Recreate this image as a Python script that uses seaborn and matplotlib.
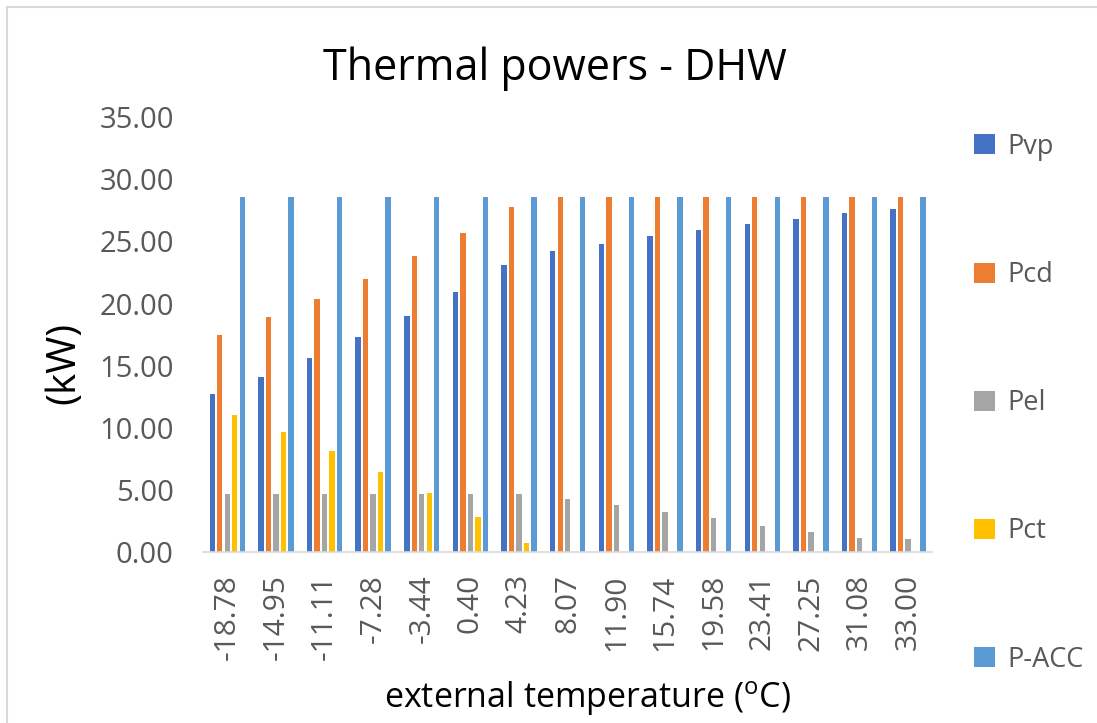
import matplotlib
matplotlib.use("Agg")
import matplotlib.pyplot as plt
import seaborn as sns
import pandas as pd
from matplotlib.patches import Patch, Rectangle

# External temperature bins (°C)
temperatures = ["-18.78", "-14.95", "-11.11", "-7.28", "-3.44", "0.40", "4.23",
                "8.07", "11.90", "15.74", "19.58", "23.41", "27.25", "31.08", "33.00"]

# Thermal powers (kW)
p_vp = [12.7, 14.05, 15.6, 17.3, 19.0, 20.9, 23.1, 24.2, 24.8, 25.4, 25.9, 26.4, 26.8, 27.3, 27.6]
p_cd = [17.5, 18.9, 20.4, 22.0, 23.8, 25.7, 27.8, 28.6, 28.6, 28.6, 28.6, 28.6, 28.6, 28.6, 28.6]
p_el = [4.64, 4.64, 4.64, 4.64, 4.64, 4.64, 4.64, 4.24, 3.78, 3.19, 2.71, 2.09, 1.64, 1.15, 1.02]
p_ct = [11.0, 9.68, 8.12, 6.43, 4.78, 2.8, 0.75, 0, 0, 0, 0, 0, 0, 0, 0]
p_acc = [28.6] * 15

series_names = ["Pvp", "Pcd", "Pel", "Pct", "P-ACC"]
series_colors = ["#4472C4", "#ED7D31", "#A5A5A5", "#FFC000", "#5B9BD5"]

frames = []
for name, vals in zip(series_names, [p_vp, p_cd, p_el, p_ct, p_acc]):
    frames.append(pd.DataFrame({"temp": temperatures, "series": name, "power": vals}))
df = pd.concat(frames, ignore_index=True)

sns.set_theme(style="white")
plt.rcParams["font.family"] = ["Open Sans", "DejaVu Sans"]
plt.rcParams["mathtext.fontset"] = "custom"
plt.rcParams["mathtext.rm"] = "Open Sans"

fig = plt.figure(figsize=(10.97, 7.23), dpi=100)
ax = fig.add_axes([0.185, 0.2365, 0.665, 0.6015])

sns.barplot(data=df, x="temp", y="power", hue="series", order=temperatures,
            hue_order=series_names, palette=series_colors, width=0.77,
            saturation=1, legend=False, ax=ax)

# Thin bars with a small gap between them
for bar in ax.patches:
    w = bar.get_width()
    new_w = w * 0.72
    bar.set_x(bar.get_x() + (w - new_w) / 2)
    bar.set_width(new_w)
    bar.set_linewidth(0)

ax.set_ylim(0, 35)
ax.set_xlim(-0.5, len(temperatures) - 0.5)
ax.set_yticks([0, 5, 10, 15, 20, 25, 30, 35])
ax.set_yticklabels([f"{v:.2f}" for v in [0, 5, 10, 15, 20, 25, 30, 35]])
ax.tick_params(axis="y", labelsize=21, colors="#595959", length=0, pad=21)
ax.tick_params(axis="x", labelsize=21.5, colors="#595959", length=0, pad=16, labelrotation=90)

for side in ["top", "right", "left"]:
    ax.spines[side].set_visible(False)
ax.spines["bottom"].set_color("#D9D9D9")
ax.spines["bottom"].set_linewidth(1.2)

ax.set_xlabel(r"external temperature ($\mathrm{^{o}}$C)", fontsize=24.5, color="black")
ax.xaxis.label.set_va("baseline")
ax.xaxis.set_label_coords((588 - 203) / 729.5, (552 - 708) / 434.9)

ax.set_ylabel("(kW)", fontsize=29, color="black")
ax.yaxis.label.set_va("center")
ax.yaxis.label.set_ha("center")
ax.yaxis.set_label_coords((64 - 203) / 729.5, (552 - 363) / 434.9)

fig.text(0.506, 1 - 80 / 723, "Thermal powers - DHW", fontsize=31, ha="center",
         va="baseline", color="black")

handles = [Patch(facecolor=c, edgecolor="none", label=n) for n, c in zip(series_names, series_colors)]
fig.legend(handles=handles, loc="upper left", bbox_to_anchor=(0.866, 0.85),
           frameon=False, fontsize=19.5, labelcolor="#595959", handlelength=0.75,
           handleheight=0.75, handletextpad=0.45, labelspacing=3.7)

# Light chart border
fig.patches.append(Rectangle((7 / 1097, -0.01), 1.02, 1 - 7 / 723 + 0.01,
                             transform=fig.transFigure, fill=False,
                             edgecolor="#D9D9D9", linewidth=1.5))

fig.savefig("out.png", dpi=100)
